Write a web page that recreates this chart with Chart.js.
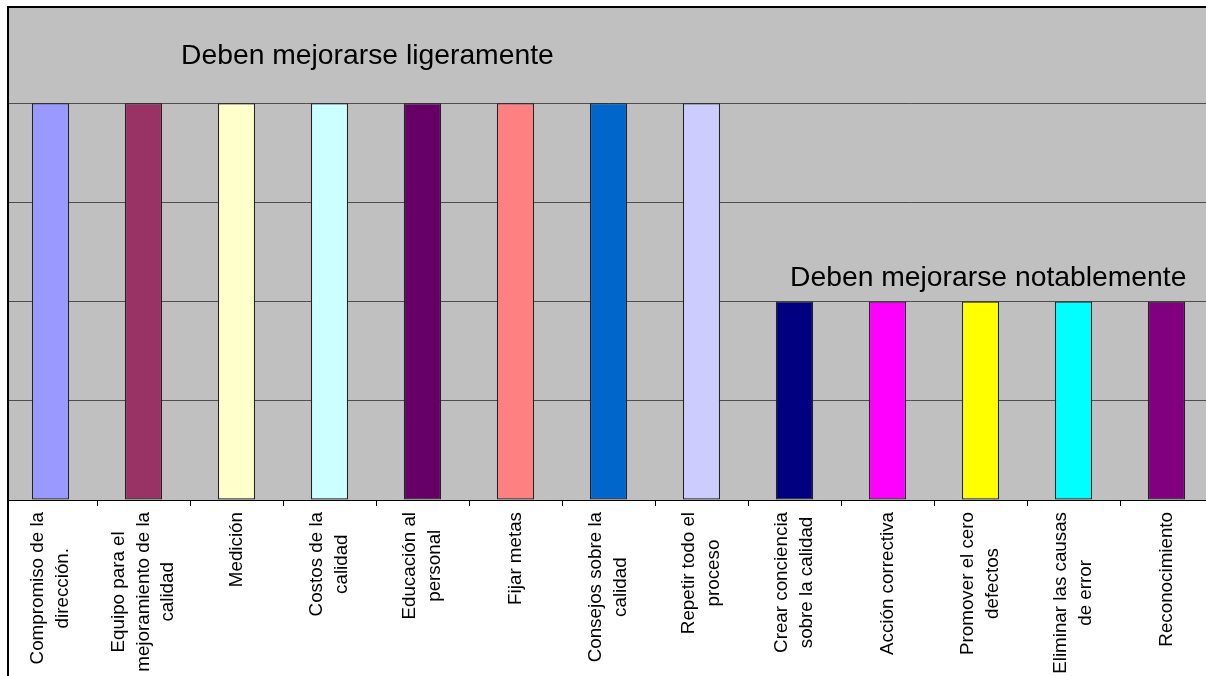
<!DOCTYPE html>
<html>
<head>
<meta charset="utf-8">
<script src="https://cdn.jsdelivr.net/npm/chart.js@4"></script>
<style>
  html, body { margin: 0; padding: 0; background: #fff; overflow: hidden; }
  #wrap { position: absolute; left: 0; top: 0; width: 1216px; height: 676px; }
</style>
</head>
<body>
<div id="wrap"><canvas id="chart-1" width="1216" height="676"></canvas></div>
<script>
const categorias = [
    ['Compromiso de la', 'dirección.'],
    ['Equipo para el', 'mejoramiento de la', 'calidad'],
    ['Medición'],
    ['Costos de la', 'calidad'],
    ['Educación al', 'personal'],
    ['Fijar metas'],
    ['Consejos sobre la', 'calidad'],
    ['Repetir todo el', 'proceso'],
    ['Crear conciencia', 'sobre la calidad'],
    ['Acción correctiva'],
    ['Promover el cero', 'defectos'],
    ['Eliminar las causas', 'de error'],
    ['Reconocimiento'],
];
const valores = [4, 4, 4, 4, 4, 4, 4, 4, 2, 2, 2, 2, 2];
const colores = [
    "#9999ff", "#993366", "#ffffcc", "#ccffff", "#660066", "#ff8080", "#0066cc",
    "#ccccff", "#000080", "#ff00ff", "#ffff00", "#00ffff", "#800080"
];
const notas = ['Deben mejorarse ligeramente', 'Deben mejorarse notablemente'];

const fuente = '"Liberation Sans", Arial, sans-serif';

// fondo gris del area de trazado
const fondo = {
    id: 'fondo',
    beforeDraw(chart) {
        const { ctx, chartArea: a } = chart;
        ctx.save();
        ctx.fillStyle = '#c0c0c0';
        ctx.fillRect(a.left, a.top, a.right - a.left, a.bottom - a.top);
        ctx.restore();
    }
};

// etiquetas giradas, textos y borde del grafico
const extras = {
    id: 'extras',
    afterDraw(chart) {
        const { ctx, chartArea: a } = chart;
        const x = chart.scales.x;
        ctx.save();

        // etiquetas del eje x (lineas centradas entre si)
        ctx.font = '18.8px ' + fuente;
        ctx.fillStyle = '#000';
        ctx.textAlign = 'center';
        ctx.textBaseline = 'middle';
        const lh = 24.5;
        categorias.forEach((lineas, i) => {
            const cx = x.getPixelForValue(i);
            const maxW = Math.max(...lineas.map(l => ctx.measureText(l).width));
            ctx.save();
            ctx.translate(cx, a.bottom + 12);
            ctx.rotate(-Math.PI / 2);
            lineas.forEach((l, j) => {
                ctx.fillText(l, -maxW / 2, (j - (lineas.length - 1) / 2) * lh);
            });
            ctx.restore();
        });

        // textos de grupo
        ctx.font = '28.3px ' + fuente;
        ctx.textAlign = 'left';
        ctx.textBaseline = 'alphabetic';
        ctx.fillText(notas[0], 181, 64);
        ctx.fillText(notas[1], 790, 286);

        // recorte y borde del objeto grafico
        ctx.fillStyle = '#fff';
        ctx.fillRect(0, 0, chart.width, 6);
        ctx.fillRect(0, 0, 7, chart.height);
        ctx.fillStyle = '#000';
        ctx.fillRect(7, 6, chart.width - 7, 2);
        ctx.fillRect(7, 6, 2, chart.height - 6);
        ctx.restore();
    }
};

new Chart(document.getElementById('chart-1'), {
    type: 'bar',
    data: {
        labels: categorias,
        datasets: [{
            data: valores,
            backgroundColor: colores,
            borderColor: '#222',
            borderWidth: 1.2,
            borderSkipped: false,
            barPercentage: 0.4,
            categoryPercentage: 1.0,
        }]
    },
    options: {
        responsive: false,
        animation: false,
        devicePixelRatio: 1,
        layout: { padding: { left: 4, top: 4, right: 3, bottom: 0 } },
        scales: {
            x: {
                grid: {
                    display: true,
                    drawOnChartArea: false,
                    drawTicks: true,
                    tickLength: 6,
                    color: '#000',
                    offset: true,
                },
                border: { display: true, color: '#000', width: 1 },
                ticks: { display: false },
                afterFit: (s) => { s.height = 176; },
            },
            y: {
                min: 0,
                max: 5,
                ticks: { display: false, stepSize: 1 },
                grid: { color: '#4d4d4d', drawTicks: false },
                border: { display: false },
                afterFit: (s) => { s.width = 0; },
            }
        },
        plugins: {
            legend: { display: false },
            tooltip: { enabled: false },
        },
    },
    plugins: [fondo, extras]
});
</script>
</body>
</html>
